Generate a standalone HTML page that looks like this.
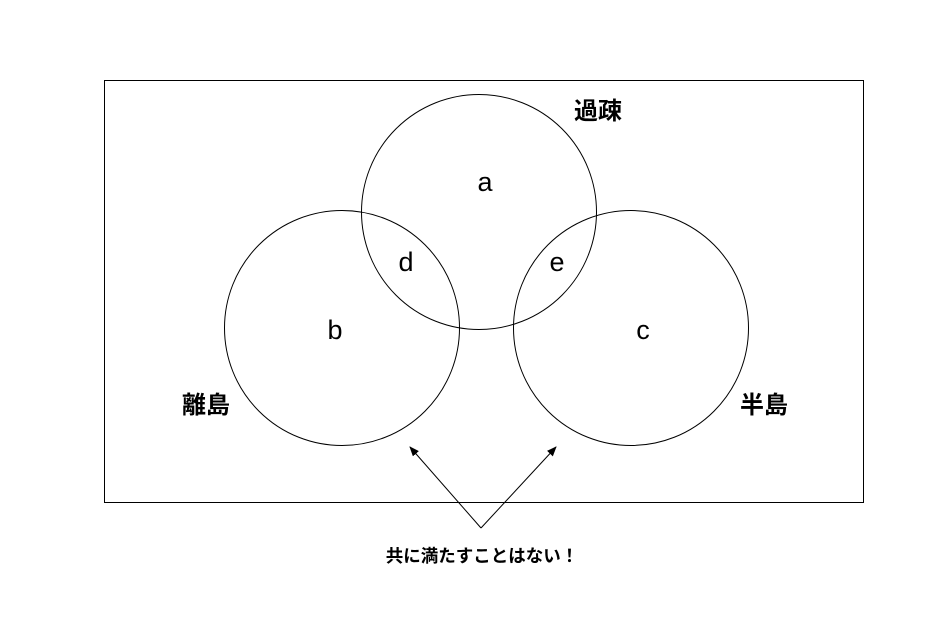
<!DOCTYPE html>
<html><head><meta charset="utf-8"><style>
html,body{margin:0;padding:0;background:#fff;}
svg{display:block;}
.l{font-family:"Liberation Sans",Arial,sans-serif;font-size:27px;fill:#000;}
.j{font-family:"Liberation Sans","Noto Sans CJK JP",sans-serif;font-weight:bold;fill:#000;}
</style></head><body>
<svg width="951" height="618" viewBox="0 0 951 618" xmlns="http://www.w3.org/2000/svg">
<defs><marker id="ah" markerWidth="10" markerHeight="8" refX="9" refY="4" orient="auto" markerUnits="userSpaceOnUse"><path d="M0,0 L10,4 L0,8 Z" fill="#000"/></marker></defs>
<rect x="104.5" y="80.5" width="759" height="422" fill="none" stroke="#000" stroke-width="1"/>
<circle cx="479" cy="212" r="117.5" fill="none" stroke="#000" stroke-width="1"/>
<circle cx="342" cy="328" r="117.5" fill="none" stroke="#000" stroke-width="1"/>
<circle cx="631" cy="328" r="117.5" fill="none" stroke="#000" stroke-width="1"/>
<text class="l" x="485" y="191" text-anchor="middle">a</text>
<text class="l" x="406" y="271" text-anchor="middle">d</text>
<text class="l" x="557" y="271" text-anchor="middle">e</text>
<text class="l" x="335" y="339" text-anchor="middle">b</text>
<text class="l" x="643" y="339" text-anchor="middle">c</text>
<text class="j" x="598" y="119" font-size="24" text-anchor="middle">過疎</text>
<text class="j" x="206" y="413" font-size="24" text-anchor="middle">離島</text>
<text class="j" x="764" y="413" font-size="24" text-anchor="middle">半島</text>
<line x1="481" y1="528" x2="410" y2="447" stroke="#000" stroke-width="1" marker-end="url(#ah)"/>
<line x1="481" y1="528" x2="556" y2="447" stroke="#000" stroke-width="1" marker-end="url(#ah)"/>
<text class="j" x="482" y="562" font-size="17.5" text-anchor="middle">共に満たすことはない！</text>
</svg>
</body></html>
